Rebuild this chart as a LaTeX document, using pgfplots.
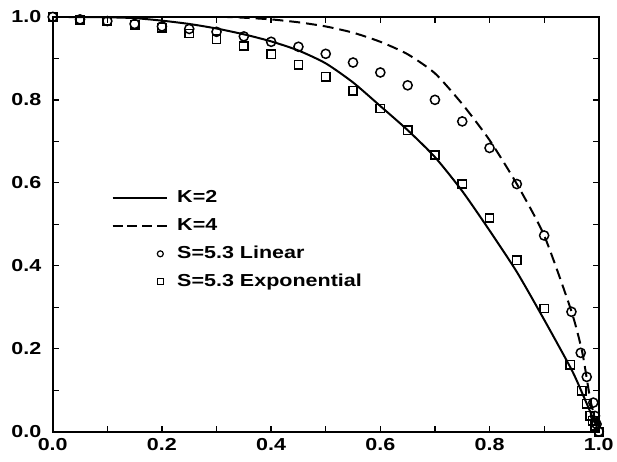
\documentclass[border=0pt]{standalone}
\usepackage{pgfplots}
\pgfplotsset{compat=1.18}
\usepackage{fontspec}
\setmainfont{Liberation Sans}
\newfontfamily\widesans[FakeStretch=1.24]{Liberation Sans}

\pgfplotsset{
  lineleg/.style={legend image code/.code={\path (0bp,-6bp) (0bp,6bp); \draw[##1] (0bp,0bp) -- (55bp,0bp);}},
  dashleg/.style={legend image code/.code={\path (0bp,-6bp) (0bp,6bp); \draw[##1, dash pattern=on 10bp off 5bp] (0bp,0bp) -- (55bp,0bp);}},
  markleg/.style={legend image code/.code={\path (0bp,-6bp) (55bp,6bp); \draw[##1, mark size=3bp, line width=1.2bp] plot coordinates {(48bp,0bp)};}},
}

\begin{document}
\begin{tikzpicture}
  \begin{axis}[
    scale only axis,
    width=549bp, height=417bp,
    xmin=0, xmax=1, ymin=0, ymax=1,
    xtick={0,0.2,...,1.0}, ytick={0,0.2,...,1.0},
    minor tick num=1,
    tick align=inside,
    xtick pos=both, ytick pos=both,
    major tick length=6bp, minor tick length=6bp,
    every tick/.style={line width=1.3bp, black},
    axis line style={line width=2bp},
    xticklabel pos=lower, yticklabel pos=left,
    /pgf/number format/.cd, fixed, fixed zerofill, precision=1, assume math mode=true,
    /pgfplots/.cd,
    tick label style={font=\widesans\bfseries\fontsize{17.5}{19}\selectfont},
    xticklabel style={yshift=-3.5bp},
    yticklabel style={xshift=-8bp},
    legend style={draw=none, fill=none, at={(0.102,0.593)}, anchor=north west,
      font=\widesans\bfseries\fontsize{17.5}{19}\selectfont, row sep=6.9bp,
      column sep=7bp, nodes={inner sep=2bp, text height=13bp, text depth=4bp}},
    legend cell align=left,
  ]
    % K=2
    \addplot[black, line width=2bp, smooth, tension=0.4, lineleg]
    coordinates {
      (0,1.0) (0.1,0.999) (0.15,0.997) (0.2,0.991) (0.25,0.983) (0.3,0.972)
      (0.35,0.958) (0.4,0.941) (0.45,0.919) (0.5,0.888) (0.55,0.842)
      (0.6,0.785) (0.65,0.727) (0.7,0.662) (0.75,0.58) (0.8,0.485)
      (0.85,0.385) (0.9,0.27) (0.95,0.15) (0.97,0.092) (1.0,0.0)
    };
    \addlegendentry{K=2}
    % K=4
    \addplot[black, line width=2bp, dash pattern=on 11bp off 6bp, smooth, tension=0.4, dashleg]
    coordinates {
      (0,1.0) (0.3,1.0) (0.35,0.998) (0.4,0.994) (0.45,0.987) (0.5,0.977)
      (0.55,0.962) (0.6,0.940) (0.65,0.910) (0.7,0.864) (0.75,0.790)
      (0.8,0.703) (0.85,0.597) (0.9,0.473) (0.95,0.29) (0.97,0.19)
      (0.985,0.074) (1.0,0.0)
    };
    \addlegendentry{K=4}
    % S=5.3 Linear
    \addplot[only marks, mark=o, mark size=4.6bp, line width=1.5bp, black, markleg]
    coordinates {
      (0,1.0) (0.05,0.994) (0.1,0.99) (0.15,0.983) (0.2,0.977) (0.25,0.971)
      (0.3,0.964) (0.35,0.953) (0.4,0.94) (0.45,0.928) (0.5,0.911)
      (0.55,0.89) (0.6,0.866) (0.65,0.835) (0.7,0.80) (0.75,0.748)
      (0.8,0.684) (0.85,0.597) (0.9,0.473) (0.95,0.289) (0.967,0.19)
      (0.978,0.132) (0.99,0.07) (0.993,0.038) (0.996,0.018) (1.0,0.0)
    };
    \addlegendentry{S=5.3 Linear}
    % S=5.3 Exponential
    \addplot[only marks, mark=square, mark size=4.2bp, line width=1.5bp, black, markleg]
    coordinates {
      (0,1.0) (0.05,0.993) (0.1,0.99) (0.15,0.981) (0.2,0.974) (0.25,0.96)
      (0.3,0.946) (0.35,0.93) (0.4,0.91) (0.45,0.885) (0.5,0.856)
      (0.55,0.822) (0.6,0.779) (0.65,0.727) (0.7,0.667) (0.75,0.597)
      (0.8,0.515) (0.85,0.413) (0.9,0.297) (0.948,0.161) (0.969,0.099)
      (0.978,0.067) (0.984,0.038) (0.989,0.026) (0.993,0.014) (1.0,0.0)
    };
    \addlegendentry{S=5.3 Exponential}
  \end{axis}
  \path (current axis.south west) ++(-53bp,-30bp);
  \path (current axis.north east) ++(15bp,17bp);
\end{tikzpicture}
\end{document}
